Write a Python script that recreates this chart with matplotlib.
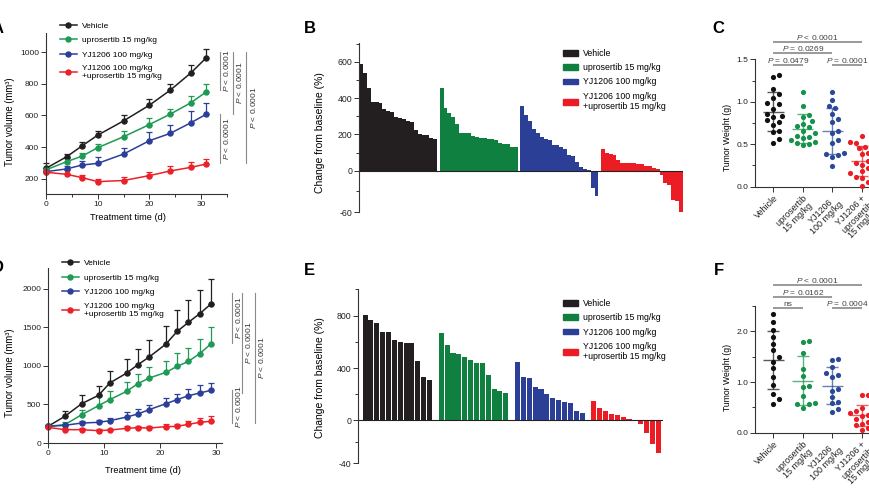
import numpy as np
import matplotlib
matplotlib.use('Agg')
import matplotlib.pyplot as plt
from matplotlib.lines import Line2D
from matplotlib.patches import Patch

plt.rcParams['font.family'] = ['Liberation Sans', 'DejaVu Sans']
plt.rcParams['mathtext.fontset'] = 'custom'
plt.rcParams['mathtext.it'] = 'Liberation Sans:italic'
plt.rcParams['mathtext.rm'] = 'Liberation Sans'
plt.rcParams['axes.unicode_minus'] = False

GROUPS = ['Vehicle', 'uprosertib 15 mg/kg', 'YJ1206 100 mg/kg',
          'YJ1206 100 mg/kg\n+uprosertib 15 mg/kg']
XLABELS = ['Vehicle', 'uprosertib\n15 mg/kg', 'YJ1206\n100 mg/kg',
           'YJ1206 +\nuprosertib\n15 mg/kg']

# --- A: tumor growth, model 1
days_a = [0, 4, 7, 10, 15, 20, 24, 28, 31]
veh_a = [267, 340, 409, 476, 566, 665, 759, 868, 964]
veh_a_err = [31, 17, 26, 28, 36, 42, 42, 52, 57]
upr_a = [257, 309, 344, 397, 466, 543, 608, 680, 749]
upr_a_err = [15, 21, 21, 23, 38, 38, 36, 41, 48]
yj_a = [246, 263, 288, 298, 357, 441, 487, 554, 608]
yj_a_err = [10, 21, 27, 42, 36, 52, 52, 75, 72]
combo_a = [242, 229, 208, 183, 190, 221, 250, 273, 294]
combo_a_err = [10, 28, 17, 15, 25, 25, 34, 32, 30]
brackets_a = [(1000, 759), (1000, 607), (1000, 298), (612, 298)]

# --- D: tumor growth, model 2
days_d = [0, 3, 6, 9, 11, 14, 16, 18, 21, 23, 25, 27, 29]
veh_d = [216, 346, 510, 618, 778, 907, 1015, 1114, 1283, 1447, 1564, 1676, 1801]
veh_d_err = [20, 64, 108, 125, 159, 182, 203, 216, 238, 281, 293, 311, 329]
upr_d = [216, 238, 367, 484, 562, 670, 769, 842, 916, 994, 1058, 1158, 1283]
upr_d_err = [20, 30, 65, 121, 108, 120, 130, 143, 151, 172, 173, 190, 220]
yj_d = [216, 229, 259, 268, 289, 337, 376, 432, 510, 562, 613, 648, 683]
yj_d_err = [15, 20, 25, 25, 30, 60, 65, 65, 73, 77, 87, 99, 95]
combo_d = [203, 173, 173, 160, 168, 190, 199, 194, 212, 216, 242, 268, 281]
combo_d_err = [20, 20, 20, 20, 20, 25, 25, 25, 30, 30, 40, 56, 65]
brackets_d = [(1944, 1296), (1944, 648), (1944, 259), (691, 259)]

# --- B / E: change from baseline (%)
veh_b = [585, 536, 453, 381, 380, 372, 340, 330, 325, 298, 290, 286, 272, 270,
         224, 202, 196, 195, 180, 174]
upr_b = [453, 343, 319, 297, 257, 209, 209, 209, 191, 183, 182, 182, 174, 174,
         169, 154, 147, 147, 132, 132]
yj_b = [358, 306, 275, 232, 208, 188, 172, 167, 143, 143, 130, 120, 84, 80,
        50, 21, 9, 5, -25, -36]
combo_b = [119, 99, 91, 85, 60, 45, 45, 44, 40, 38, 37, 27, 25, 15, 10,
           -6, -18, -21, -42, -44, -60]

veh_e = [801, 765, 745, 676, 676, 617, 600, 589, 589, 457, 334, 306]
upr_e = [666, 574, 515, 505, 485, 459, 441, 441, 344, 240, 222, 209]
yj_e = [449, 334, 324, 258, 240, 202, 173, 158, 143, 135, 69, 59]
combo_e = [145, 97, 69, 52, 41, 24, 14, 4, -3, -12, -22, -30]

# --- C / F: tumor weight (g)
veh_c = [1.31, 1.29, 1.15, 1.09, 1.05, 0.98, 0.97, 0.92, 0.86, 0.83, 0.82,
         0.78, 0.76, 0.73, 0.66, 0.64, 0.56, 0.52]
upr_c = [1.11, 0.95, 0.84, 0.82, 0.77, 0.74, 0.72, 0.70, 0.66, 0.63, 0.60,
         0.58, 0.57, 0.55, 0.53, 0.52, 0.50, 0.49]
yj_c = [1.11, 1.02, 0.95, 0.93, 0.86, 0.80, 0.76, 0.65, 0.63, 0.55, 0.52,
        0.40, 0.39, 0.37, 0.35, 0.24]
combo_c = [0.60, 0.53, 0.52, 0.49, 0.47, 0.45, 0.40, 0.38, 0.33, 0.30, 0.28,
           0.26, 0.22, 0.18, 0.16, 0.13, 0.12, 0.10, 0.06, 0.01]
sig_c = [(0, 3, '$P$ < 0.0001', 1.70), (0, 2, '$P$ = 0.0269', 1.57),
         (0, 1, '$P$ = 0.0479', 1.43), (2, 3, '$P$ = 0.0001', 1.43)]

veh_f = [2.34, 2.18, 2.02, 1.88, 1.76, 1.64, 1.50, 1.40, 1.28, 1.10, 0.95,
         0.76, 0.66, 0.56]
upr_f = [1.81, 1.78, 1.58, 1.25, 1.12, 0.92, 0.90, 0.72, 0.59, 0.57, 0.56, 0.48]
yj_f = [1.46, 1.44, 1.30, 1.18, 1.14, 1.10, 0.87, 0.83, 0.70, 0.61, 0.58,
        0.47, 0.40]
combo_f = [0.75, 0.74, 0.48, 0.42, 0.38, 0.36, 0.35, 0.33, 0.28, 0.22, 0.18,
           0.15, 0.10, 0.05]
sig_f = [(0, 3, '$P$ < 0.0001', 2.92), (0, 2, '$P$ = 0.0162', 2.67),
         (0, 1, 'ns', 2.46), (2, 3, '$P$ = 0.0004', 2.46)]

LINE_COLORS = ['#231f20', '#1f9a55', '#2c3f98', '#ec2028']
BAR_COLORS = ['#231f20', '#0f8040', '#2c3f96', '#ec1c24']
DOT_COLORS = ['#111111', '#16924a', '#2a4a98', '#ea1d25']
AX_COL = '#333333'

W, H = 870, 492
fig = plt.figure(figsize=(8.7, 4.92), dpi=100)


def add_ax(l, t, r, b):
    return fig.add_axes([l / W, 1 - b / H, (r - l) / W, (b - t) / H])


def tidy(ax):
    for s in ['top', 'right']:
        ax.spines[s].set_visible(False)
    for s in ['left', 'bottom']:
        ax.spines[s].set_linewidth(0.8)
        ax.spines[s].set_color(AX_COL)
    ax.tick_params(which='both', labelsize=6, width=0.7, color=AX_COL,
                   pad=1.5, labelcolor='#222222')
    ax.tick_params(which='major', length=3.5)
    ax.tick_params(which='minor', length=2)


def growth(ax, days, means, errs, brackets, bx, left, width):
    for m, e, c in zip(means, errs, LINE_COLORS):
        ax.errorbar(days, m, yerr=[np.zeros(len(e)), e], color=c, marker='o',
                    ms=3.6, lw=1.1, elinewidth=0.9, capsize=2.2, capthick=0.9,
                    clip_on=False)
    tidy(ax)
    ax.set_xticks([0, 10, 20, 30])
    ax.set_xlabel('Treatment time (d)', fontsize=6.7)
    ax.set_ylabel('Tumor volume (mm³)', fontsize=6.9)
    handles = [Line2D([], [], color=c, marker='o', ms=3.6, lw=1.1)
               for c in LINE_COLORS]
    tr = ax.get_yaxis_transform()
    for (y0, y1), xp in zip(brackets, bx):
        xa = (xp - left) / width
        ax.plot([xa, xa], [y0, y1], transform=tr, color='#8a8a8a', lw=0.8,
                clip_on=False)
        ax.text(xa + 6.5 / width, (y0 + y1) / 2, '$P$ < 0.0001', transform=tr,
                rotation=90, ha='center', va='center', fontsize=6,
                color='#333333', clip_on=False)
    return handles


def waterfall(ax, groups, gap, width, k, xlim, ylim, major, minor):
    def fwd(v):
        v = np.asarray(v, float)
        return np.where(v >= 0, v, v * k)

    def inv(d):
        d = np.asarray(d, float)
        return np.where(d >= 0, d, d / k)

    ax.set_yscale('function', functions=(fwd, inv))
    start = 0
    for vals, c in zip(groups, BAR_COLORS):
        x = start + np.arange(len(vals))
        ax.bar(x, vals, width=width, color=c, linewidth=0)
        start += len(vals) + gap
    ax.axhline(0, color='#222222', lw=0.8)
    tidy(ax)
    ax.spines['bottom'].set_visible(False)
    ax.set_xticks([])
    ax.set_xlim(*xlim)
    ax.set_ylim(*ylim)
    ax.set_yticks(major)
    ax.set_yticks(minor, minor=True)
    ax.yaxis.set_major_formatter(plt.FuncFormatter(lambda v, p: '%d' % round(v)))
    ax.yaxis.set_minor_formatter(plt.NullFormatter())
    ax.tick_params(axis='y', labelsize=6.3)
    ax.set_ylabel('Change from baseline (%)', fontsize=7.5)
    handles = [Patch(color=c) for c in BAR_COLORS]
    return handles


def swarm(vals, ypx, xpx=29.5, d=6.0):
    vals = np.asarray(vals, float)
    xs = np.zeros(len(vals))
    placed = []
    steps = [0] + [s * k for k in range(1, 8) for s in (1, -1)]
    for i in np.argsort(vals):
        y = vals[i] * ypx
        for st in steps:
            x = st * d * 0.5
            if all((x - px) ** 2 + (y - py) ** 2 >= d ** 2 for px, py in placed):
                break
        placed.append((x, y))
        xs[i] = x / xpx
    return xs


def dots(ax, groups, ypx, ylim, major, minor, sig):
    for i, (vals, c) in enumerate(zip(groups, DOT_COLORS)):
        vals = np.asarray(vals, float)
        off = swarm(vals, ypx)
        ax.scatter(i + off, vals, s=14, color=c, linewidths=0, zorder=3,
                   clip_on=False)
        m, sd = vals.mean(), vals.std(ddof=1)
        kw = dict(color=c, lw=1.0, alpha=0.7, zorder=4, solid_capstyle='butt')
        ax.plot([i - 0.35, i + 0.35], [m, m], **kw)
        ax.plot([i, i], [m - sd, m + sd], **kw)
        ax.plot([i - 0.2, i + 0.2], [m + sd, m + sd], **kw)
        ax.plot([i - 0.2, i + 0.2], [m - sd, m - sd], **kw)
    tidy(ax)
    ax.set_xlim(-0.62, 3.6)
    ax.set_ylim(*ylim)
    ax.set_yticks(major)
    ax.set_yticks(minor, minor=True)
    ax.yaxis.set_major_formatter(plt.FuncFormatter(lambda v, p: '%.1f' % v))
    ax.set_xticks(range(4))
    ax.set_xticklabels(XLABELS, rotation=45, ha='right', va='top',
                       rotation_mode='anchor', fontsize=6.5, linespacing=1.0)
    for t in ax.get_xticklabels():
        t.set_multialignment('center')
    ax.set_ylabel('Tumor Weight (g)', fontsize=6.2)
    for a, b, txt, y in sig:
        ax.plot([a, b], [y, y], color='#9a9a9a', lw=1.4, clip_on=False,
                solid_capstyle='butt')
        ax.text((a + b) / 2, y, txt, ha='center', va='bottom', fontsize=6,
                color='#444444', clip_on=False)


# ---------- A
ax_a = add_ax(46, 33, 227, 194)
h = growth(ax_a, days_a, [veh_a, upr_a, yj_a, combo_a],
           [veh_a_err, upr_a_err, yj_a_err, combo_a_err],
           brackets_a, [220, 233, 246.5, 220], 46, 181)
ax_a.set_xlim(0, 35)
ax_a.set_ylim(105, 1120)
ax_a.set_xticks([5, 15, 25, 35], minor=True)
ax_a.set_yticks([200, 400, 600, 800, 1000])
ax_a.xaxis.set_label_coords(0.453, -0.118)
ax_a.yaxis.set_label_coords(-0.17, 0.447)
ax_a.legend(h, GROUPS, loc='upper left', bbox_to_anchor=(0.077, 1.07),
            frameon=False, fontsize=6, handlelength=2.0, handletextpad=0.6,
            labelspacing=0.8, borderpad=0, borderaxespad=0)

# ---------- D
ax_d = add_ax(48, 268, 222, 443)
h = growth(ax_d, days_d, [veh_d, upr_d, yj_d, combo_d],
           [veh_d_err, upr_d_err, yj_d_err, combo_d_err],
           brackets_d, [232, 242, 255, 232], 48, 174)
ax_d.set_xlim(0, 31)
ax_d.set_ylim(0, 2270)
ax_d.set_yticks([0, 500, 1000, 1500, 2000])
ax_d.xaxis.set_label_coords(0.546, -0.131)
ax_d.yaxis.set_label_coords(-0.19, 0.40)
ax_d.legend(h, GROUPS, loc='upper left', bbox_to_anchor=(0.08, 1.05),
            frameon=False, fontsize=6, handlelength=2.0, handletextpad=0.6,
            labelspacing=0.8, borderpad=0, borderaxespad=0)

# ---------- B
ax_b = add_ax(359, 42.7, 683, 212.3)
n_b = len(veh_b) + len(upr_b) + len(yj_b) + len(combo_b)
h = waterfall(ax_b, [veh_b, upr_b, yj_b, combo_b], 0.6, 1.0, 3.82,
              (-0.5, n_b - 1 + 1.8 + 0.5), (-60, 705),
              [-60, 0, 200, 400, 600], [-30, 100, 300, 500, 700])
ax_b.yaxis.set_label_coords(-0.105, 0.473)
ax_b.legend(h, GROUPS, loc='upper left', bbox_to_anchor=(0.63, 0.963),
            frameon=False, fontsize=6.3, handlelength=1.7, handleheight=0.6,
            handletextpad=0.57, labelspacing=0.6, borderpad=0, borderaxespad=0)

# ---------- E
ax_e = add_ax(358, 289.3, 663, 463.3)
h = waterfall(ax_e, [veh_e, upr_e, yj_e, combo_e], 1, 0.86, 8.16,
              (-1.2, 50.8), (-40, 1000),
              [-40, 0, 400, 800], [-20, 200, 600, 1000])
ax_e.yaxis.set_label_coords(-0.108, 0.494)
ax_e.legend(h, GROUPS, loc='upper left', bbox_to_anchor=(0.672, 0.944),
            frameon=False, fontsize=6.3, handlelength=1.7, handleheight=0.6,
            handletextpad=0.57, labelspacing=0.6, borderpad=0, borderaxespad=0)

# ---------- C
ax_c = add_ax(755, 59.3, 879.5, 186.7)
dots(ax_c, [veh_c, upr_c, yj_c, combo_c], 84.9, (0, 1.5),
     [0.0, 0.5, 1.0, 1.5], [0.25, 0.75, 1.25], sig_c)
ax_c.yaxis.set_label_coords(-0.185, 0.39)

# ---------- F
ax_f = add_ax(755, 306, 879.5, 432.7)
dots(ax_f, [veh_f, upr_f, yj_f, combo_f], 50.7, (0, 2.5),
     [0.0, 1.0, 2.0], [0.5, 1.5, 2.5], sig_f)
ax_f.yaxis.set_label_coords(-0.185, 0.44)

# ---------- panel letters
for letter, x, y in [('A', -8, 33), ('B', 304, 33), ('C', 712, 33),
                     ('D', -8, 272), ('E', 304, 275), ('F', 714, 275)]:
    fig.text(x / W, 1 - y / H, letter, fontsize=12, fontweight='bold',
             va='baseline', ha='left')

fig.savefig('out.png', dpi=100)
